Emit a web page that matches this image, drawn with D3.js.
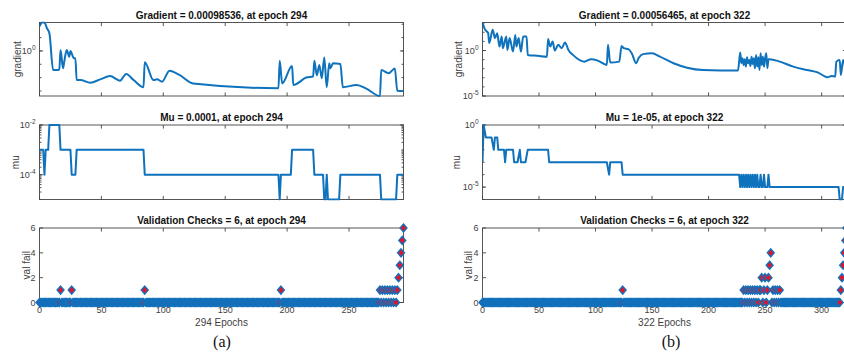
<!DOCTYPE html>
<html>
<head>
<meta charset="utf-8">
<script src="https://cdn.jsdelivr.net/npm/d3@7"></script>
<style>
  body { margin: 0; background: #fff; }
  svg { display: block; font-family: "Liberation Sans", Arial, Helvetica, sans-serif; }
</style>
</head>
<body>
<script>
// ---- Training run (a): 294 epochs ----
const epochCountA = 294;
const gradEpochsA = [0, 2, 4, 6, 8, 11, 14, 16, 17, 19, 20, 22, 24, 25, 27, 28, 29, 30, 33, 41, 49, 57, 65, 70, 76, 84, 85, 92, 95, 99, 105, 113, 124, 193, 194, 196, 204, 205, 216, 221, 222, 224, 226, 228, 230, 232, 234, 235, 237, 243, 245, 256, 264, 275, 276, 282, 287, 289, 294];
const gradValuesA = [68, 135, 135, 50, 21, 0.037, 0.037, 0.042, 1.2, 0.05, 0.16, 1.2, 0.37, 1.0, 0.37, 0.28, 0.28, 0.0066, 0.0066, 0.0042, 0.0074, 0.013, 0.0059, 0.019, 0.0066, 0.0019, 0.14, 0.0066, 0.0074, 0.005, 0.033, 0.016, 0.0037, 0.0016, 0.18, 0.0037, 0.074, 0.0028, 0.0105, 0.012, 0.18, 0.015, 0.09, 0.009, 0.32, 0.0019, 0.12, 0.05, 0.12, 0.105, 0.0019, 0.0028, 0.0015, 0.00042, 0.037, 0.021, 0.049, 0.00105, 0.00098536];
const muEpochsA = [0, 3, 4, 5, 7, 8, 16, 17, 25, 26, 29, 30, 84, 85, 193, 194, 195, 203, 204, 221, 222, 229, 230, 231, 232, 233, 242, 243, 275, 276, 288, 289, 294];
const muValuesA = [1e-3, 1e-3, 1e-4, 1e-3, 1e-3, 1e-2, 1e-2, 1e-3, 1e-3, 1e-4, 1e-4, 1e-3, 1e-3, 1e-4, 1e-4, 1e-5, 1e-4, 1e-4, 1e-3, 1e-3, 1e-4, 1e-4, 1e-5, 1e-5, 1e-4, 1e-5, 1e-5, 1e-4, 1e-4, 1e-5, 1e-5, 1e-4, 1e-4];
// epochs with a non-zero validation failure count (all other epochs are 0)
const failEpochsA = [17, 26, 85, 195, 275, 277, 279, 281, 283, 285, 287, 289, 290, 291, 292, 293, 294];
const failCountsA = [1, 1, 1, 1, 1, 1, 1, 1, 1, 1, 1, 1, 2, 3, 4, 5, 6];

// ---- Training run (b): 322 epochs ----
const epochCountB = 322;
const gradEpochsB = [0, 2, 5, 6, 9, 11, 13, 15, 17, 18, 21, 22, 24, 27, 29, 30, 32, 34, 36, 39, 40, 49, 57, 58, 60, 62, 64, 67, 70, 73, 76, 80, 90, 96, 102, 110, 111, 113, 121, 123, 125, 129, 132, 136, 138, 142, 150, 157, 169, 181, 195, 226, 228, 229, 230, 231, 232, 233, 234, 235, 236, 237, 238, 239, 240, 241, 242, 243, 244, 245, 246, 247, 248, 249, 250, 251, 252, 253, 254, 263, 275, 287, 297, 302, 305, 309, 312, 313, 316, 317, 319, 322];
const gradValuesB = [1200, 224, 81, 6.5, 190, 23, 81, 2.7, 35, 1.8, 35, 1.17, 23, 0.76, 52, 2.7, 23, 0.76, 35, 35, 0.33, 0.26, 0.21, 18, 2.7, 9.8, 1.0, 4.2, 1.8, 7.6, 1.17, 0.33, 0.06, 0.11, 0.078, 0.026, 4.2, 0.047, 0.06, 3.2, 1.8, 1.4, 0.51, 0.04, 0.14, 0.4, 0.51, 0.21, 0.04, 0.013, 0.0072, 0.0062, 0.59, 0.04, 0.14, 0.026, 0.11, 0.017, 0.18, 0.04, 0.093, 0.02, 0.21, 0.033, 0.14, 0.011, 0.33, 0.017, 0.18, 0.0072, 0.51, 0.026, 0.21, 0.017, 0.14, 0.51, 0.011, 0.11, 0.11, 0.06, 0.017, 0.0072, 0.0037, 0.0016, 0.00115, 0.0016, 0.00135, 0.06, 0.093, 0.002, 0.093, 0.00056465];
const muEpochsB = [0, 1, 3, 8, 10, 11, 13, 14, 19, 20, 21, 27, 28, 31, 33, 34, 38, 40, 58, 59, 110, 112, 113, 123, 124, 227, 228, 229, 230, 231, 232, 233, 234, 235, 236, 237, 238, 239, 240, 241, 242, 243, 244, 245, 246, 247, 248, 249, 250, 251, 252, 253, 254, 315, 316, 318, 319, 322];
const muValuesB = [1e-3, 1, 1e-1, 1e-1, 1e-2, 1e-1, 1e-1, 1e-2, 1e-2, 1e-3, 1e-2, 1e-2, 1e-3, 1e-3, 1e-2, 1e-3, 1e-3, 1e-2, 1e-2, 1e-3, 1e-3, 1e-4, 1e-3, 1e-3, 1e-4, 1e-4, 1e-5, 1e-4, 1e-5, 1e-4, 1e-5, 1e-4, 1e-5, 1e-4, 1e-5, 1e-4, 1e-5, 1e-4, 1e-5, 1e-4, 1e-5, 1e-4, 1e-5, 1e-5, 1e-4, 1e-5, 1e-5, 1e-4, 1e-5, 1e-5, 1e-5, 1e-4, 1e-5, 1e-5, 1e-6, 1e-6, 1e-5, 1e-5];
const failEpochsB = [124, 231, 233, 235, 237, 239, 241, 243, 245, 246, 247, 249, 250, 252, 253, 254, 255, 257, 259, 261, 263, 317, 318, 319, 320, 321, 322];
const failCountsB = [1, 1, 1, 1, 1, 1, 1, 1, 1, 1, 2, 1, 2, 1, 2, 3, 4, 1, 1, 1, 1, 1, 2, 3, 4, 5, 6];

// ---- Axis limits, tick values and texts ----
const gradLimitsA = [0.00042, 135];
const gradLimitsB = [1e-5, 1200];
const muLimitsA = [1e-5, 1e-2];
const muLimitsB = [1e-6, 1];
const failLimits = [0, 6];
const gradLabelExpA = [0];
const gradLabelExpB = [0, -5];
const muLabelExpA = [-2, -4];
const muLabelExpB = [0, -5];
const failTicks = [0, 2, 4, 6];
const epochTicksA = [0, 50, 100, 150, 200, 250];
const epochTicksB = [0, 50, 100, 150, 200, 250, 300];
const titlesA = ["Gradient = 0.00098536, at epoch 294", "Mu = 0.0001, at epoch 294", "Validation Checks = 6, at epoch 294"];
const titlesB = ["Gradient = 0.00056465, at epoch 322", "Mu = 1e-05, at epoch 322", "Validation Checks = 6, at epoch 322"];
const yLabels = ["gradient", "mu", "val fail"];
const captions = ["(a)", "(b)"];

// ---- Drawing ----
const W = 844, H = 353;
const lineBlue = "#0f72bd";
const axisGray = "#444";
const textGray = "#3f3f3f";

const svg = d3.select("body").append("svg").attr("width", W).attr("height", H);

const rows = [{ top: 22.5, bottom: 96 }, { top: 125, bottom: 199.5 }, { top: 228, bottom: 302.5 }];

// diamond marker as a custom d3 symbol type (a bit wider than d3.symbolDiamond)
const wideDiamond = {
  draw(ctx, size) {
    const h = Math.sqrt(size) / 2, w = h * 0.86;
    ctx.moveTo(0, -h); ctx.lineTo(w, 0); ctx.lineTo(0, h); ctx.lineTo(-w, 0); ctx.closePath();
  }
};

function pairs(xs, ys) { return xs.map((e, i) => [e, ys[i]]); }

function frame(g, x, y, r, xTicks, yMajor, yMinor) {
  const [x0, x1] = x.range();
  const tl = 3.6, tm = 2;
  g.append("rect").attr("x", x0).attr("y", r.top).attr("width", x1 - x0).attr("height", r.bottom - r.top)
    .attr("fill", "none").attr("stroke", axisGray).attr("stroke-width", 0.9);
  const t = g.append("g").attr("stroke", axisGray).attr("stroke-width", 0.9);
  xTicks.forEach(v => {
    const px = x(v);
    t.append("line").attr("x1", px).attr("x2", px).attr("y1", r.bottom).attr("y2", r.bottom - tl);
    t.append("line").attr("x1", px).attr("x2", px).attr("y1", r.top).attr("y2", r.top + tl);
  });
  const yt = (v, len) => {
    const py = y(v);
    t.append("line").attr("x1", x0).attr("x2", x0 + len).attr("y1", py).attr("y2", py);
    t.append("line").attr("x1", x1).attr("x2", x1 - len).attr("y1", py).attr("y2", py);
  };
  yMajor.forEach(v => yt(v, tl));
  yMinor.forEach(v => yt(v, tm));
}

function logMinor(limits, perDecade) {
  const out = [];
  const lo = Math.floor(Math.log10(limits[0])), hi = Math.ceil(Math.log10(limits[1]));
  for (let k = lo; k <= hi; k++) {
    const steps = perDecade ? [1, 2, 3, 4, 5, 6, 7, 8, 9] : [1];
    steps.forEach(m => {
      const v = m * Math.pow(10, k);
      if (v >= limits[0] * 0.999 && v <= limits[1] * 1.001) out.push(v);
    });
  }
  return out;
}

function powLabels(g, y, x0, exps) {
  exps.forEach(e => {
    const txt = g.append("text").attr("x", x0 - 4).attr("y", y(Math.pow(10, e)) + 3.3)
      .attr("text-anchor", "end").attr("font-size", 9).attr("fill", textGray);
    txt.append("tspan").text("10");
    txt.append("tspan").attr("dy", -4.2).attr("font-size", 6.5).text(String(e));
  });
}

function drawRun(cfg) {
  const g = svg.append("g");
  const x = d3.scaleLinear().domain([0, cfg.epochs]).range([cfg.left, cfg.left + 364]);
  const cx = cfg.left + 182;
  const clipId = "clip" + cfg.key;

  // gradient
  {
    const r = rows[0];
    const y = d3.scaleLog().domain(cfg.gradLimits).range([r.bottom, r.top]);
    frame(g, x, y, r, cfg.xTicks, cfg.gradExp.map(e => Math.pow(10, e)), logMinor(cfg.gradLimits, false));
    g.append("clipPath").attr("id", clipId + "g").append("rect")
      .attr("x", cfg.left).attr("y", r.top - 1).attr("width", 364).attr("height", r.bottom - r.top + 2);
    g.append("path").datum(pairs(cfg.gradEpochs, cfg.gradValues))
      .attr("clip-path", `url(#${clipId}g)`)
      .attr("fill", "none").attr("stroke", lineBlue).attr("stroke-width", 2).attr("stroke-linejoin", "round")
      .attr("d", d3.line().curve(d3.curveMonotoneX).x(d => x(d[0])).y(d => y(d[1])));
    powLabels(g, y, cfg.left, cfg.gradExp);
  }
  // mu
  {
    const r = rows[1];
    const y = d3.scaleLog().domain(cfg.muLimits).range([r.bottom, r.top]);
    frame(g, x, y, r, cfg.xTicks, cfg.muExp.map(e => Math.pow(10, e)), logMinor(cfg.muLimits, cfg.muFine));
    g.append("clipPath").attr("id", clipId + "m").append("rect")
      .attr("x", cfg.left).attr("y", r.top - 1).attr("width", 364).attr("height", r.bottom - r.top + 2);
    g.append("path").datum(pairs(cfg.muEpochs, cfg.muValues))
      .attr("clip-path", `url(#${clipId}m)`)
      .attr("fill", "none").attr("stroke", lineBlue).attr("stroke-width", 2).attr("stroke-linejoin", "round")
      .attr("d", d3.line().x(d => x(d[0])).y(d => y(d[1])));
    powLabels(g, y, cfg.left, cfg.muExp);
  }
  // validation failures
  {
    const r = rows[2];
    const y = d3.scaleLinear().domain(failLimits).range([r.bottom, r.top]);
    frame(g, x, y, r, cfg.xTicks, failTicks, []);
    const lookup = new Map(cfg.failEpochs.map((e, i) => [e, cfg.failCounts[i]]));
    const series = d3.range(0, cfg.epochs + 1).map(e => [e, lookup.get(e) || 0]);
    const sym = d3.symbol().type(wideDiamond).size(64);
    g.append("g").selectAll("path").data(series).join("path")
      .attr("transform", d => `translate(${x(d[0])},${y(d[1])})`)
      .attr("d", sym).attr("fill", "#e4132c").attr("stroke", lineBlue).attr("stroke-width", 1.4);
    failTicks.forEach(v => {
      g.append("text").attr("x", cfg.left - 4).attr("y", y(v) + 3.2).attr("text-anchor", "end")
        .attr("font-size", 9).attr("fill", textGray).text(v);
    });
    cfg.xTicks.forEach(v => {
      g.append("text").attr("x", x(v)).attr("y", 313).attr("text-anchor", "middle")
        .attr("font-size", 9).attr("fill", textGray).text(v);
    });
    g.append("text").attr("x", cx).attr("y", 325.5).attr("text-anchor", "middle")
      .attr("font-size", 10).attr("fill", textGray).text(`${cfg.epochs} Epochs`);
  }

  // titles and axis names
  rows.forEach((r, i) => {
    g.append("text").attr("x", cx).attr("y", r.top - 4).attr("text-anchor", "middle")
      .attr("font-size", 10).attr("font-weight", "bold").attr("fill", "#111").text(cfg.titles[i]);
    const lx = cfg.labelX[i], ly = (r.top + r.bottom) / 2;
    g.append("text").attr("transform", `translate(${lx},${ly}) rotate(-90)`).attr("text-anchor", "middle")
      .attr("font-size", 10).attr("fill", textGray).text(yLabels[i]);
  });

  g.append("text").attr("x", cfg.captionX).attr("y", 347).attr("text-anchor", "middle")
    .attr("font-family", "'Liberation Serif', 'Times New Roman', serif").attr("font-size", 16)
    .attr("fill", "#111").text(cfg.caption);
}

drawRun({
  key: "a", left: 39.5, epochs: epochCountA, xTicks: epochTicksA,
  gradEpochs: gradEpochsA, gradValues: gradValuesA, gradLimits: gradLimitsA, gradExp: gradLabelExpA,
  muEpochs: muEpochsA, muValues: muValuesA, muLimits: muLimitsA, muExp: muLabelExpA, muFine: true,
  failEpochs: failEpochsA, failCounts: failCountsA,
  titles: titlesA, labelX: [21, 18.5, 29.5], caption: captions[0], captionX: 222
});
drawRun({
  key: "b", left: 482.5, epochs: epochCountB, xTicks: epochTicksB,
  gradEpochs: gradEpochsB, gradValues: gradValuesB, gradLimits: gradLimitsB, gradExp: gradLabelExpB,
  muEpochs: muEpochsB, muValues: muValuesB, muLimits: muLimitsB, muExp: muLabelExpB, muFine: false,
  failEpochs: failEpochsB, failCounts: failCountsB,
  titles: titlesB, labelX: [461.5, 460, 471.5], caption: captions[1], captionX: 671
});
</script>
</body>
</html>
